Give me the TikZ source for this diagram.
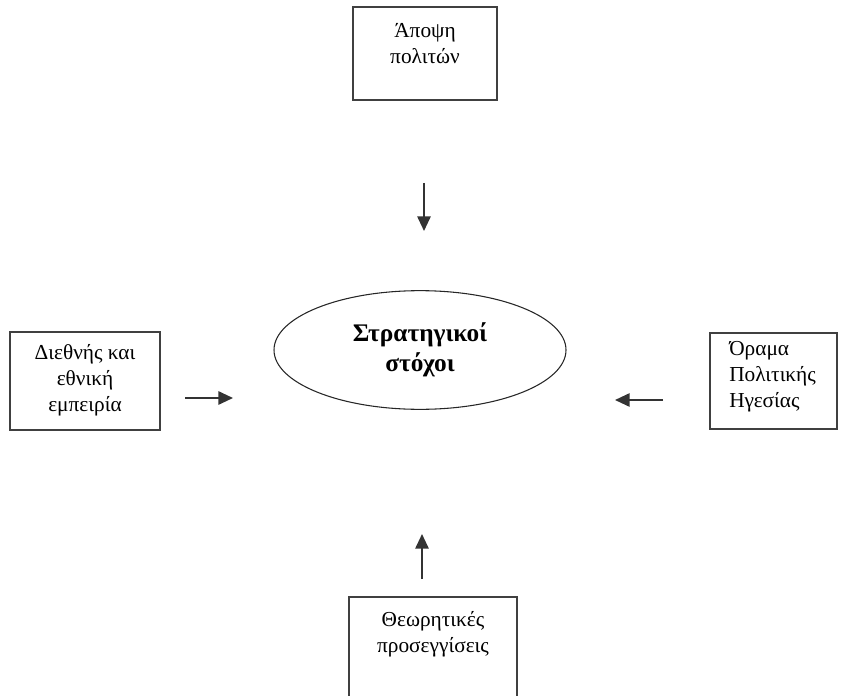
\documentclass[tikz,border=0pt]{standalone}
\usepackage{fontspec}
\setmainfont{Liberation Serif}
\usetikzlibrary{shapes.geometric,arrows.meta,positioning}

\begin{document}
\begin{tikzpicture}[
    x=0.75pt, y=-0.75pt,
    box/.style={rectangle, draw=black!75, line width=1.2pt},
    txt/.style={font=\fontsize{16}{19.5}\selectfont, align=center, inner sep=0pt},
    goal/.style={ellipse, draw=black!85, line width=0.8pt, minimum width=219pt, minimum height=89pt, font=\bfseries\fontsize{19}{22.5}\selectfont, align=center},
    arrow/.style={line width=1.4pt, draw=black!80, -{Triangle[length=11pt,width=10pt]}}
]
\useasboundingbox (0,0) rectangle (848,695);

% Boxes round the centre
\node[box, minimum width=108pt, minimum height=69.75pt] (opinion) at (425,53.5) {};
\node[box, minimum width=112.5pt, minimum height=73.5pt] (experience) at (85,381) {};
\node[box, minimum width=95.25pt, minimum height=72pt] (vision) at (773.5,381) {};
\node[box, minimum width=126pt, minimum height=92pt] (theory) at (433,658.5) {};

% Box texts
\node[txt] (opiniontxt) at (425,44) {Άποψη\\πολιτών};
\node[txt] (experiencetxt) at (85,380) {Διεθνής και\\εθνική\\εμπειρία};
\node[txt, align=left, anchor=west] (visiontxt) at (729,377) {Όραμα\\Πολιτικής\\Ηγεσίας};
\node[txt] (theorytxt) at (433,634) {Θεωρητικές\\προσεγγίσεις};

% Central goal
\node[goal] (goals) at (420,350) {Στρατηγικοί\\στόχοι};

% Free arrows
\coordinate (downs) at (424,183);
\coordinate (downe) at (424,231);
\coordinate (ups) at (422,579);
\coordinate (upe) at (422,534);
\coordinate (lefts) at (185,398);
\coordinate (lefte) at (233,398);
\coordinate (rights) at (663,400);
\coordinate (righte) at (615,400);

\draw[arrow] (downs) -- (downe);
\draw[arrow] (ups) -- (upe);
\draw[arrow] (lefts) -- (lefte);
\draw[arrow] (rights) -- (righte);

\end{tikzpicture}
\end{document}
